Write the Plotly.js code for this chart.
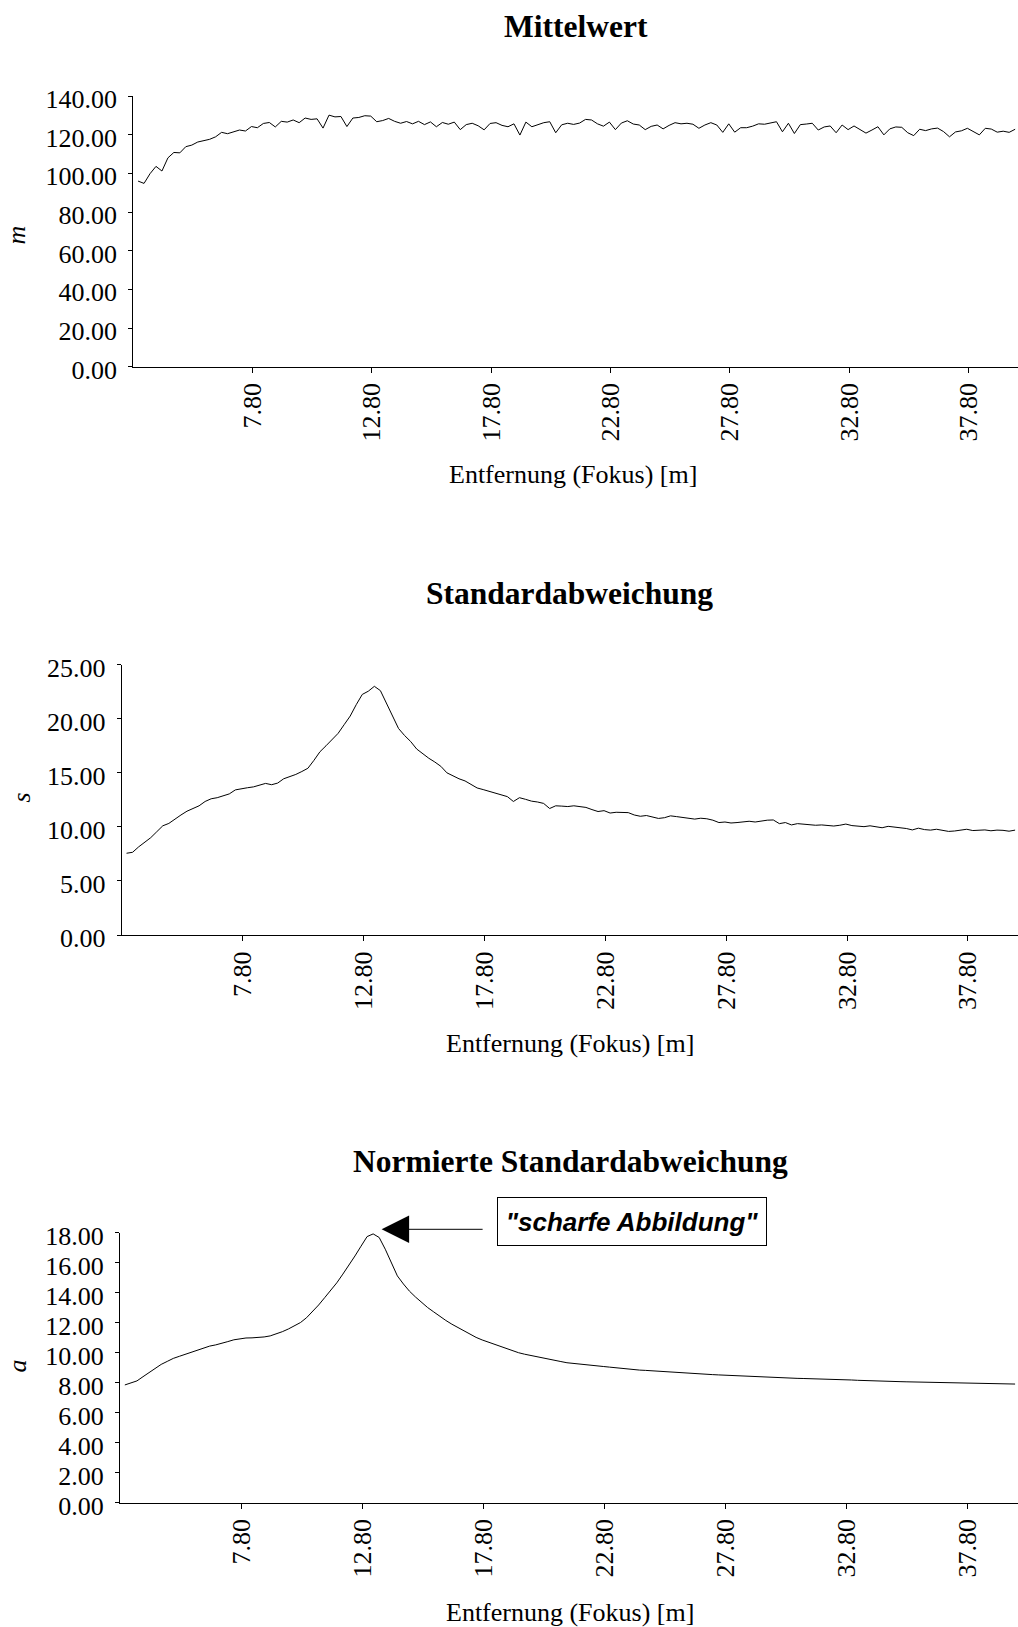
<!DOCTYPE html>
<html>
<head>
<meta charset="utf-8">
<script src="https://cdn.plot.ly/plotly-3.0.1.min.js"></script>
<style>
html,body{margin:0;padding:0;background:#fff;}
#chart{width:1018px;height:1627px;}
</style>
</head>
<body>
<div id="chart"></div>
<script>
// ---------- data ----------
const dist = [3,3.25,3.5,3.75,4,4.25,4.5,4.75,5,5.25,5.5,5.75,6,6.25,6.5,6.75,7,7.25,7.5,7.75,
8,8.25,8.5,8.75,9,9.25,9.5,9.75,10,10.25,10.5,10.75,11,11.25,11.5,11.75,12,12.25,12.5,12.75,
13,13.25,13.5,13.75,14,14.25,14.5,14.75,15,15.25,15.5,15.75,16,16.25,16.5,16.75,17,17.25,17.5,17.75,
18,18.25,18.5,18.75,19,19.25,19.5,19.75,20,20.25,20.5,20.75,21,21.25,21.5,21.75,22,22.25,22.5,22.75,
23,23.25,23.5,23.75,24,24.25,24.5,24.75,25,25.25,25.5,25.75,26,26.25,26.5,26.75,27,27.25,27.5,27.75,
28,28.25,28.5,28.75,29,29.25,29.5,29.75,30,30.25,30.5,30.75,31,31.25,31.5,31.75,32,32.25,32.5,32.75,
33,33.25,33.5,33.75,34,34.25,34.5,34.75,35,35.25,35.5,35.75,36,36.25,36.5,36.75,37,37.25,37.5,37.75,
38,38.25,38.5,38.75,39,39.25,39.5,39.75];

const mittelwert = [96.0,94.8,99.8,103.6,101.2,108.0,110.8,110.6,113.8,114.6,
116.2,116.8,117.6,118.9,121.2,120.5,121.6,122.4,121.9,124.2,
123.6,125.8,126.3,124.0,126.9,126.5,127.6,126.2,128.6,127.9,
128.2,123.4,130.1,129.2,129.4,124.2,128.6,128.9,129.8,129.6,
126.7,127.3,128.4,126.9,125.9,126.8,125.6,126.9,125.2,126.6,
124.1,126.3,125.4,126.5,122.6,125.2,125.9,124.6,122.5,125.8,
126.2,124.8,124.1,125.6,119.8,126.5,124.1,125.0,126.2,126.7,
121.0,125.1,125.9,125.3,126.0,127.9,127.6,125.6,124.4,126.5,
122.6,126.0,127.2,125.5,125.0,122.6,124.3,125.0,123.0,124.8,
126.2,125.6,125.9,125.4,123.3,125.0,126.2,125.0,121.2,125.6,
121.3,123.6,123.6,124.4,125.6,125.4,126.2,126.7,121.5,125.9,
120.6,125.2,125.5,125.9,122.4,124.0,124.5,121.0,125.0,122.6,
124.5,122.8,120.8,122.4,124.1,119.9,123.0,124.0,123.8,121.0,
119.5,122.8,122.1,123.0,123.4,121.6,118.9,121.4,122.0,123.3,
121.5,119.9,123.3,122.9,121.3,121.8,121.2,122.8];

const standardabw = [7.56,7.65,8.15,8.55,9.00,9.55,10.10,10.32,10.75,11.10,
11.45,11.70,11.95,12.35,12.60,12.70,12.85,13.05,13.42,13.55,
13.62,13.70,13.84,14.02,13.90,14.05,14.45,14.62,14.85,15.12,
15.42,16.15,16.95,17.50,18.10,18.65,19.45,20.25,21.30,22.25,
22.55,23.00,22.60,21.40,20.20,19.10,18.45,17.90,17.20,16.75,
16.35,16.00,15.60,15.00,14.70,14.45,14.25,13.95,13.60,13.45,
13.30,13.12,12.95,12.80,12.35,12.70,12.55,12.38,12.30,12.17,
11.70,11.95,11.92,11.88,11.95,11.90,11.80,11.60,11.42,11.50,
11.28,11.35,11.30,11.32,11.10,10.98,11.05,10.95,10.78,10.85,
11.02,10.95,10.88,10.78,10.72,10.80,10.75,10.62,10.40,10.45,
10.36,10.40,10.48,10.52,10.45,10.55,10.62,10.64,10.30,10.40,
10.18,10.30,10.25,10.20,10.15,10.18,10.10,10.08,10.15,10.26,
10.12,10.05,10.02,10.10,10.00,9.92,10.05,9.98,9.96,9.85,
9.72,9.88,9.75,9.70,9.78,9.65,9.58,9.62,9.72,9.78,
9.66,9.70,9.72,9.64,9.70,9.68,9.60,9.70];

const normiertStd = [7.85,7.96,8.12,8.40,8.68,8.97,9.22,9.42,9.62,9.76,
9.90,10.03,10.17,10.33,10.44,10.52,10.61,10.74,10.86,10.94,
10.98,10.99,11.01,11.05,11.12,11.24,11.40,11.58,11.78,12.01,
12.33,12.75,13.18,13.67,14.15,14.66,15.24,15.83,16.45,17.10,
17.74,17.92,17.68,16.90,15.95,15.12,14.58,14.10,13.71,13.35,
13.01,12.72,12.41,12.15,11.90,11.67,11.44,11.23,11.02,10.85,
10.70,10.56,10.43,10.30,10.12,10.00,9.90,9.81,9.72,9.66,
9.57,9.49,9.41,9.33,9.28,9.23,9.18,9.15,9.12,9.08,
9.04,8.99,8.94,8.91,8.87,8.84,8.82,8.79,8.76,8.74,
8.71,8.68,8.66,8.62,8.60,8.58,8.56,8.54,8.52,8.50,
8.48,8.46,8.44,8.41,8.38,8.36,8.34,8.33,8.32,8.31,
8.30,8.29,8.28,8.27,8.26,8.24,8.23,8.23,8.24,8.21,
8.18,8.16,8.14,8.12,8.12,8.11,8.09,8.08,8.07,8.06,
8.05,8.04,8.02,8.01,8.00,8.00,8.00,8.01,8.00,7.99,
7.98,7.97,7.96,7.95,7.94,7.93,7.92,7.91];

const xTickVals = [7.8,12.8,17.8,22.8,27.8,32.8,37.8];
const xTickText = ['7.80','12.80','17.80','22.80','27.80','32.80','37.80'];
const chartTitles = ['Mittelwert','Standardabweichung','Normierte Standardabweichung'];
const yTitles = ['m','s','a'];
const xTitle = 'Entfernung (Fokus) [m]';
const calloutText = '"scharfe Abbildung"';
const calloutX = 13.6;   // distance the callout arrow points at

// ---------- layout ----------
const W = 1018, H = 1627;
const fx = v => v / W;
const fy = v => 1 - v / H;
const serif = '"Liberation Serif","Times New Roman",Times,serif';
const sans = '"Liberation Sans",Arial,Helvetica,sans-serif';

const seriesList = [mittelwert, standardabw, normiertStd];
const geo = [
  {l:133.3, top:96,     bottom:366.7,  yr:[0,140], dy:20, tx:576, ty:26,     xtx:573, xty:474.5,  ytx:16.5, yty:235},
  {l:121.7, top:664.7,  bottom:935,    yr:[0,25],  dy:5,  tx:569, ty:593.4,  xtx:570, xty:1043,   ytx:21.5, yty:798},
  {l:120,   top:1232.7, bottom:1502.7, yr:[0,18],  dy:2,  tx:570, ty:1161.4, xtx:570, xty:1612.5, ytx:16.5, yty:1366}
];

const traces = [];
const layout = {
  width: W, height: H,
  margin: {l:0, r:0, t:0, b:0},
  paper_bgcolor: '#fff', plot_bgcolor: '#fff',
  showlegend: false,
  annotations: []
};

geo.forEach((g, i) => {
  const n = i === 0 ? '' : String(i + 1);
  traces.push({
    x: dist, y: seriesList[i], type: 'scatter', mode: 'lines',
    xaxis: 'x' + n, yaxis: 'y' + n,
    line: {color: '#000', width: 1}, hoverinfo: 'skip'
  });
  layout['xaxis' + n] = {
    domain: [fx(g.l), 1], range: [2.8, 39.87], anchor: 'y' + n,
    tickmode: 'array', tickvals: xTickVals, ticktext: xTickText, tickangle: -90,
    ticks: 'outside', ticklen: 5, tickwidth: 1, tickcolor: '#000',
    showline: true, linecolor: '#000', linewidth: 1,
    showgrid: false, zeroline: false, automargin: false,
    ticklabelstandoff: 0,
    tickfont: {family: serif, size: 26, color: '#000'}
  };
  layout['yaxis' + n] = {
    domain: [fy(g.bottom), fy(g.top)], range: g.yr, anchor: 'x' + n,
    tick0: 0, dtick: g.dy, tickformat: '.2f',
    ticks: 'outside', ticklen: 4, tickwidth: 1, tickcolor: '#000',
    showline: true, linecolor: '#000', linewidth: 1,
    showgrid: false, zeroline: false, automargin: false,
    ticklabelstandoff: 6, ticklabelshift: 3,
    tickfont: {family: serif, size: 26, color: '#000'}
  };
  layout.annotations.push({
    text: chartTitles[i], xref: 'paper', yref: 'paper', x: fx(g.tx), y: fy(g.ty),
    xanchor: 'center', yanchor: 'middle', showarrow: false,
    font: {family: serif, size: 31.5, color: '#000', weight: 'bold'}
  });
  layout.annotations.push({
    text: xTitle, xref: 'paper', yref: 'paper', x: fx(g.xtx), y: fy(g.xty),
    xanchor: 'center', yanchor: 'middle', showarrow: false,
    font: {family: serif, size: 26, color: '#000'}
  });
  layout.annotations.push({
    text: yTitles[i], xref: 'paper', yref: 'paper', x: fx(g.ytx), y: fy(g.yty),
    xanchor: 'center', yanchor: 'middle', showarrow: false, textangle: -90,
    font: {family: serif, size: 26, color: '#000', style: 'italic'}
  });
});

// callout box
layout.annotations.push({
  text: calloutText, xref: 'paper', yref: 'paper', x: fx(632.3), y: fy(1221.7),
  xanchor: 'center', yanchor: 'middle', showarrow: false,
  width: 256, height: 35, borderpad: 6, borderwidth: 1, bordercolor: '#000',
  bgcolor: '#fff',
  font: {family: sans, size: 26, color: '#000', weight: 'bold', style: 'italic'}
});
// callout arrow
layout.annotations.push({
  text: ' ', xref: 'x3', yref: 'paper', x: calloutX, y: fy(1229.3),
  ax: 103, ay: 0, showarrow: true, arrowhead: 2, arrowsize: 5.5, arrowwidth: 1,
  arrowcolor: '#000', standoff: 0, font: {size: 4}
});

Plotly.newPlot('chart', traces, layout, {staticPlot: true, displayModeBar: false});
</script>
</body>
</html>
